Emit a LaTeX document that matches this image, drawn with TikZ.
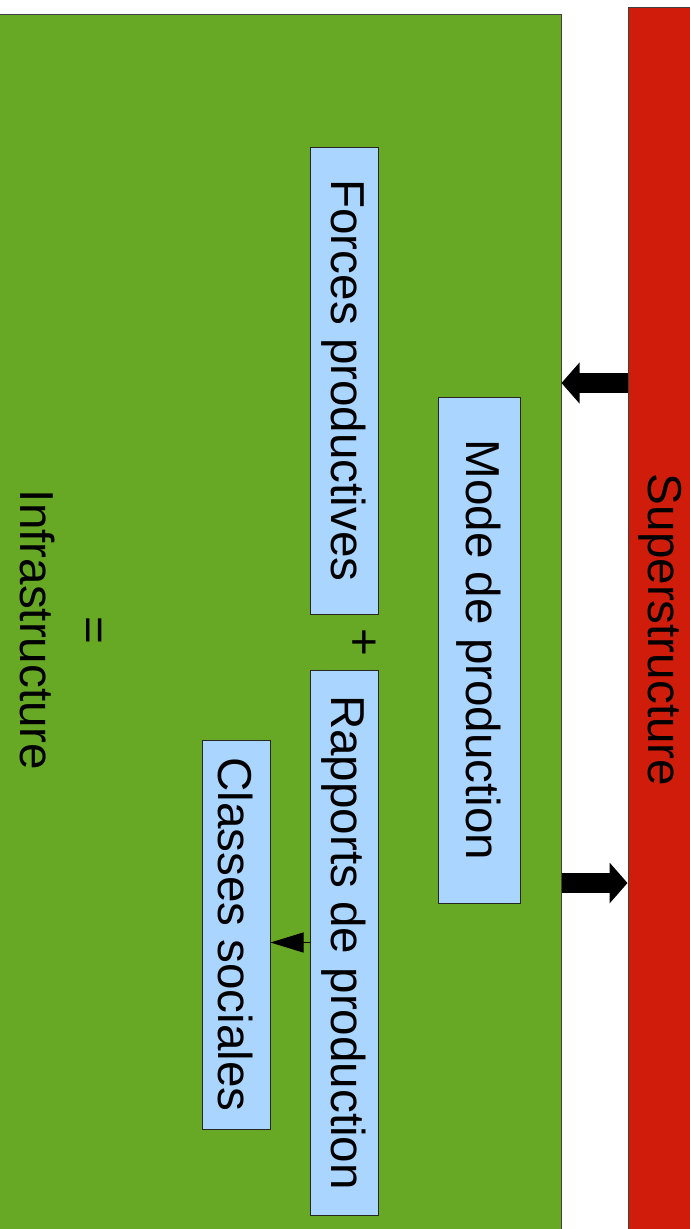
\documentclass[tikz,border=0pt]{standalone}
\usepackage{fontspec}
\setmainfont{Liberation Sans}
\usetikzlibrary{arrows.meta}

\definecolor{infragreen}{HTML}{67A824}
\definecolor{superred}{HTML}{D01C0A}
\definecolor{boxblue}{HTML}{AAD5FF}

\tikzset{
  zone/.style={draw=black!75, line width=1pt, inner sep=0pt},
  boxnode/.style={draw=black!85, fill=boxblue, line width=1pt, inner sep=0pt},
  bigarrow/.style={line width=20pt, -{Triangle[length=18pt, width=40pt]}},
  bigfont/.style={font=\fontsize{47.6}{57}\selectfont}
}

\begin{document}
\begin{tikzpicture}[x=1pt, y=-1pt, bigfont]
    \useasboundingbox (0,0) rectangle (690,1229);

    % Zones
    \node[zone, fill=infragreen, minimum width=563pt, minimum height=1221pt] (infra) at (279.5,624.5) {};
    \node[zone, fill=superred, minimum width=64pt, minimum height=1228pt] (super) at (660,621) {};

    % Boxes
    \node[boxnode, minimum width=68pt, minimum height=467pt] (forces) at (344,380.5) {\rotatebox{-90}{Forces productives}};
    \node[boxnode, minimum width=82pt, minimum height=506pt] (mode) at (479,650) {\rotatebox{-90}{Mode de production}};
    \node[boxnode, minimum width=68pt, minimum height=545pt] (rapports) at (344,942.5) {\rotatebox{-90}{Rapports de production}};
    \node[boxnode, minimum width=68pt, minimum height=389pt] (classes) at (236,934.5) {\rotatebox{-90}{Classes sociales}};

    % Labels
    \node[inner sep=0pt] (plus) at (362,642) {\rotatebox{-90}{+}};
    \node[inner sep=0pt] (equal) at (90,630) {\rotatebox{-90}{=}};
    \node[inner sep=0pt] (infratext) at (37,630) {\rotatebox{-90}{Infrastructure}};
    \node[inner sep=0pt] (supertext) at (660,630) {\rotatebox{-90}{Superstructure}};

    % Arrows between the zones
    \coordinate (upper) at (0,383);
    \coordinate (lower) at (0,883);
    \draw[bigarrow] (super.west |- upper) -- (infra.east |- upper);
    \draw[bigarrow] (infra.east |- lower) -- (super.west |- lower);

    % Rapports to classes
    \draw[line width=1pt, -{Triangle[length=33pt, width=20pt]}] (rapports.west) -- (classes.east |- rapports.west);
\end{tikzpicture}
\end{document}
